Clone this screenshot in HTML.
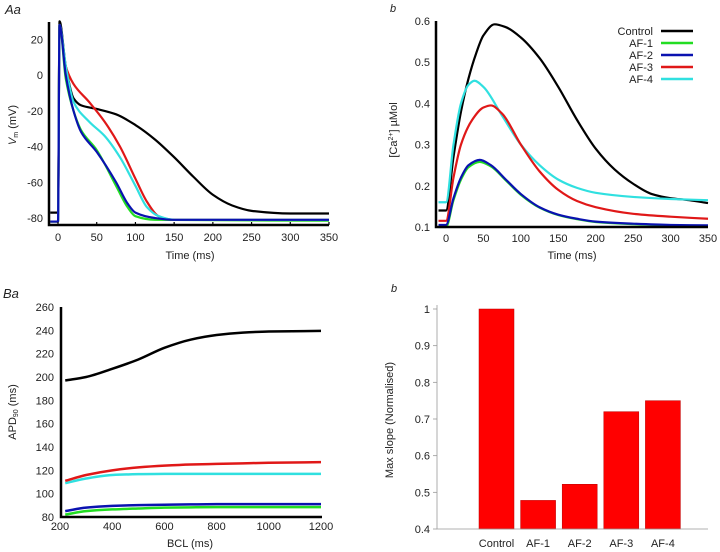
<!DOCTYPE html>
<html><head><meta charset="utf-8"><style>
html,body{margin:0;padding:0;background:#fff;}
svg{display:block;font-family:"Liberation Sans",Arial,sans-serif;}
</style></head><body>
<svg id="fig" width="720" height="552" viewBox="0 0 720 552" xmlns="http://www.w3.org/2000/svg">
<g id="g"></g>
</svg>
<script>
// ---- Panel Aa data (membrane potential) ----
const aaControlT=[-10,0,2,10,20,30,50,75,100,125,150,175,200,225,250,300,350];
const aaControlV=[-77,-77,30,5,-13,-17,-19,-22,-28,-36,-46,-57,-67,-73,-76,-77.5,-77.5];
const aaAF3T=[-10,0,2,10,20,40,60,80,100,115,130,150,350];
const aaAF3V=[-82,-82,28,5,-5,-15,-26,-40,-58,-71,-79,-81,-81];
const aaAF4T=[-10,0,2,10,20,40,60,80,100,115,130,150,350];
const aaAF4V=[-82,-82,28,5,-15,-26,-34,-46,-62,-74,-79,-81,-81];
const aaAF1T=[-10,0,2,10,20,30,50,75,90,100,125,350];
const aaAF1V=[-82,-82,28,-2,-20,-31,-42,-62,-74,-79,-81,-81.5];
const aaAF2T=[-10,0,2,10,20,30,50,75,90,100,125,150,350];
const aaAF2V=[-82,-82,28,0,-20,-32,-43,-60,-72,-77,-80,-81,-81];
const aaXTicks=[0,50,100,150,200,250,300,350];
const aaYTicks=[20,0,-20,-40,-60,-80];
// ---- Panel Ab data (calcium) ----
const abControlT=[-10,0,10,20,30,40,50,65,80,100,125,150,175,200,225,250,275,300,325,350];
const abControlC=[0.14,0.14,0.27,0.38,0.46,0.52,0.565,0.592,0.585,0.56,0.51,0.44,0.36,0.29,0.24,0.205,0.18,0.17,0.165,0.158];
const abAF4T=[-10,0,10,20,30,38,50,75,100,125,150,175,200,250,300,350];
const abAF4C=[0.16,0.16,0.3,0.4,0.445,0.455,0.44,0.37,0.3,0.25,0.215,0.195,0.183,0.173,0.168,0.165];
const abAF3T=[-10,0,10,20,35,50,60,75,100,125,150,175,200,250,300,350];
const abAF3C=[0.115,0.115,0.22,0.3,0.36,0.39,0.395,0.375,0.3,0.235,0.19,0.163,0.148,0.132,0.125,0.12];
const abAF1T=[-10,0,10,20,30,45,60,80,100,125,150,175,200,250,300,350];
const abAF1C=[0.1,0.1,0.165,0.215,0.245,0.258,0.247,0.213,0.178,0.147,0.129,0.119,0.112,0.107,0.104,0.103];
const abAF2T=[-10,0,10,20,30,45,60,80,100,125,150,175,200,250,300,350];
const abAF2C=[0.105,0.105,0.17,0.22,0.25,0.263,0.25,0.215,0.18,0.148,0.13,0.12,0.113,0.108,0.105,0.104];
const abXTicks=[0,50,100,150,200,250,300,350];
const abYTicks=[0.6,0.5,0.4,0.3,0.2,0.1];
const legendNames=["Control","AF-1","AF-2","AF-3","AF-4"];
// ---- Panel Ba data (APD90 vs BCL) ----
const baBCL=[220,300,400,500,600,700,800,900,1000,1200];
const baControl=[197,200,207,215,225,232,236,238,239,239.5];
const baAF3=[111,116,120,122.5,124,125,125.5,126,126.5,127];
const baAF4=[109,113,116,116.7,117,117,117,117,117,117];
const baAF2=[85,88,89.5,90.2,90.5,90.8,91,91,91,91];
const baAF1=[82,85,86.5,87.3,88,88.3,88.5,88.5,88.5,88.5];
const baXTicks=[200,400,600,800,1000,1200];
const baYTicks=[260,240,220,200,180,160,140,120,100,80];
// ---- Panel Bb data (max slope) ----
const bbCats=["Control","AF-1","AF-2","AF-3","AF-4"];
const bbVals=[1.0,0.478,0.522,0.72,0.75];
const bbYTicks=[1,0.9,0.8,0.7,0.6,0.5,0.4];

const COLORS={Control:"#000",AF1:"#22dd22",AF2:"#0a12b0",AF3:"#e01818",AF4:"#30e0e0"};
const NS="http://www.w3.org/2000/svg";
const G=document.getElementById('g');
function mk(tag,attrs,parent){const e=document.createElementNS(NS,tag);for(const k in attrs)e.setAttribute(k,attrs[k]);(parent||G).appendChild(e);return e;}
function lin(d0,d1,r0,r1){return v=>r0+(v-d0)*(r1-r0)/(d1-d0);}
// monotone cubic (Fritsch-Carlson) - no overshoot
function smooth(xs,ys,sx,sy){
  const X=xs.map(sx), Y=ys.map(sy), n=X.length;
  const d=[],m=[];
  for(let i=0;i<n-1;i++) d.push((Y[i+1]-Y[i])/(X[i+1]-X[i]));
  m[0]=d[0]; m[n-1]=d[n-2];
  for(let i=1;i<n-1;i++){ if(d[i-1]*d[i]<=0) m[i]=0; else { const w1=2*(X[i+1]-X[i])+(X[i]-X[i-1]), w2=(X[i+1]-X[i])+2*(X[i]-X[i-1]); m[i]=(w1+w2)/(w1/d[i-1]+w2/d[i]); } }
  let p="M"+X[0].toFixed(2)+","+Y[0].toFixed(2);
  for(let i=0;i<n-1;i++){ const h=(X[i+1]-X[i])/3;
    p+=" C"+(X[i]+h).toFixed(2)+","+(Y[i]+m[i]*h).toFixed(2)+" "+(X[i+1]-h).toFixed(2)+","+(Y[i+1]-m[i+1]*h).toFixed(2)+" "+X[i+1].toFixed(2)+","+Y[i+1].toFixed(2);}
  return p;
}
function text(str,x,y,anchor,size,extra){const t=mk('text',Object.assign({x:x,y:y,'text-anchor':anchor,'font-size':size,fill:'#222'},extra||{}));t.textContent=str;return t;}

// ===== Panel Aa =====
(function(){
  const sx=lin(0,350,58,329), sy=lin(0,-80,75,218);
  const g=mk('g',{});
  
  
  const series=[[aaControlT,aaControlV,COLORS.Control,'control'],[aaAF1T,aaAF1V,COLORS.AF1,'af-1'],[aaAF3T,aaAF3V,COLORS.AF3,'af-3'],[aaAF4T,aaAF4V,COLORS.AF4,'af-4'],[aaAF2T,aaAF2V,COLORS.AF2,'af-2']];
  series.forEach(s=>{const p=mk('path',{d:smooth(s[0],s[1],sx,sy),fill:'none',stroke:s[2],'stroke-width':2.2},g);
    
    });
  const ax=mk('path',{d:'M49,22 V225 H329',fill:'none',stroke:'#000','stroke-width':2.5},g);
  
  
  aaXTicks.forEach(v=>{mk('line',{x1:sx(v),x2:sx(v),y1:225,y2:222,stroke:'#000','stroke-width':1.2},g);
    const t=text(String(v),sx(v),241,'middle',11);
    
    });
  aaYTicks.forEach(v=>{const t=text(String(v),43,sy(v)+4,'end',11);
    
    });
  const xt=text('Time (ms)',190,259,'middle',11);
  
  
  const yt=mk('text',{x:0,y:0,'text-anchor':'middle','font-size':11,fill:'#222',transform:'translate(16,125) rotate(-90)'},g);
  yt.innerHTML='<tspan font-style="italic">V</tspan><tspan font-size="7" dy="2">m</tspan><tspan dy="-2"> (mV)</tspan>';
  
  
  const pl=text('Aa',5,14,'start',13,{'font-style':'italic'});
  
  
})();

// ===== Panel Ab =====
(function(){
  const sx=lin(0,350,446,708), sy=lin(0.1,0.6,227,21);
  const g=mk('g',{});
  
  
  const series=[[abControlT,abControlC,COLORS.Control,'control'],[abAF1T,abAF1C,COLORS.AF1,'af-1'],[abAF4T,abAF4C,COLORS.AF4,'af-4'],[abAF3T,abAF3C,COLORS.AF3,'af-3'],[abAF2T,abAF2C,COLORS.AF2,'af-2']];
  series.forEach(s=>{const p=mk('path',{d:smooth(s[0],s[1],sx,sy),fill:'none',stroke:s[2],'stroke-width':2.2},g);
    
    });
  const ax=mk('path',{d:'M436,21 V227 H708',fill:'none',stroke:'#000','stroke-width':2.5},g);
  
  
  abXTicks.forEach(v=>{const t=text(String(v),sx(v),242,'middle',11);
    
    });
  abYTicks.forEach(v=>{const t=text(v.toFixed(1),430,sy(v)+4,'end',11);
    
    });
  const xt=text('Time (ms)',572,259,'middle',11);
  
  
  const yt=mk('text',{x:0,y:0,'text-anchor':'middle','font-size':11,fill:'#222',transform:'translate(397,130) rotate(-90)'},g);
  yt.innerHTML='[Ca<tspan font-size="7" dy="-4">2+</tspan><tspan dy="4">] µMol</tspan>';
  
  
  const lc=[COLORS.Control,COLORS.AF1,COLORS.AF2,COLORS.AF3,COLORS.AF4];
  legendNames.forEach((n,i)=>{const y=31+i*12;
    const lg=mk('g',{},g);
    
    
    const t=mk('text',{x:653,y:y+4,'text-anchor':'end','font-size':11,fill:'#222'},lg);t.textContent=n;
    mk('line',{x1:661,x2:693,y1:y,y2:y,stroke:lc[i],'stroke-width':2.5},lg);});
  const pl=text('b',390,12,'start',11,{'font-style':'italic'});
  
  
})();

// ===== Panel Ba =====
(function(){
  const sx=lin(200,1200,60,321), sy=lin(80,260,517,307);
  const g=mk('g',{});
  
  
  const series=[[baControl,COLORS.Control,'control'],[baAF1,COLORS.AF1,'af-1'],[baAF2,COLORS.AF2,'af-2'],[baAF4,COLORS.AF4,'af-4'],[baAF3,COLORS.AF3,'af-3']];
  series.forEach(s=>{const p=mk('path',{d:smooth(baBCL,s[0],sx,sy),fill:'none',stroke:s[1],'stroke-width':2.5},g);
    
    });
  const ax=mk('path',{d:'M61,307 V517 H322',fill:'none',stroke:'#000','stroke-width':2.5},g);
  
  
  baXTicks.forEach(v=>{const t=text(String(v),sx(v),530,'middle',11);
    
    });
  baYTicks.forEach(v=>{const t=text(String(v),54,sy(v)+4,'end',11);
    
    });
  const xt=text('BCL (ms)',190,547,'middle',11);
  
  
  const yt=mk('text',{x:0,y:0,'text-anchor':'middle','font-size':11,fill:'#222',transform:'translate(16,412) rotate(-90)'},g);
  yt.innerHTML='APD<tspan font-size="7" dy="2">90</tspan><tspan dy="-2"> (ms)</tspan>';
  
  
  const pl=text('Ba',3,298,'start',13,{'font-style':'italic'});
  
  
})();

// ===== Panel Bb =====
(function(){
  const sy=lin(0.4,1.0,529,309);
  const x0=479, step=41.6, bw=35;
  const g=mk('g',{});
  
  
  bbVals.forEach((v,i)=>{const x=x0+i*step;
    const r=mk('rect',{x:x,y:sy(v),width:bw,height:sy(0.4)-sy(v),fill:'#ff0000',stroke:'#b00','stroke-width':0.5},g);
    
    
    const t=text(bbCats[i],x+bw/2,547,'middle',11);
    
    });
  const ax=mk('path',{d:'M437,305 V529 H708',fill:'none',stroke:'#999','stroke-width':0.8},g);
  
  
  bbYTicks.forEach(v=>{mk('line',{x1:433,x2:437,y1:sy(v),y2:sy(v),stroke:'#999','stroke-width':0.8},g);
    const t=text(String(v),430,sy(v)+4,'end',11);
    
    });
  const yt=text('Max slope (Normalised)',0,0,'middle',11,{transform:'translate(393,420) rotate(-90)'});
  
  
  const pl=text('b',391,292,'start',11,{'font-style':'italic'});
  
  
})();
</script>
</body></html>
